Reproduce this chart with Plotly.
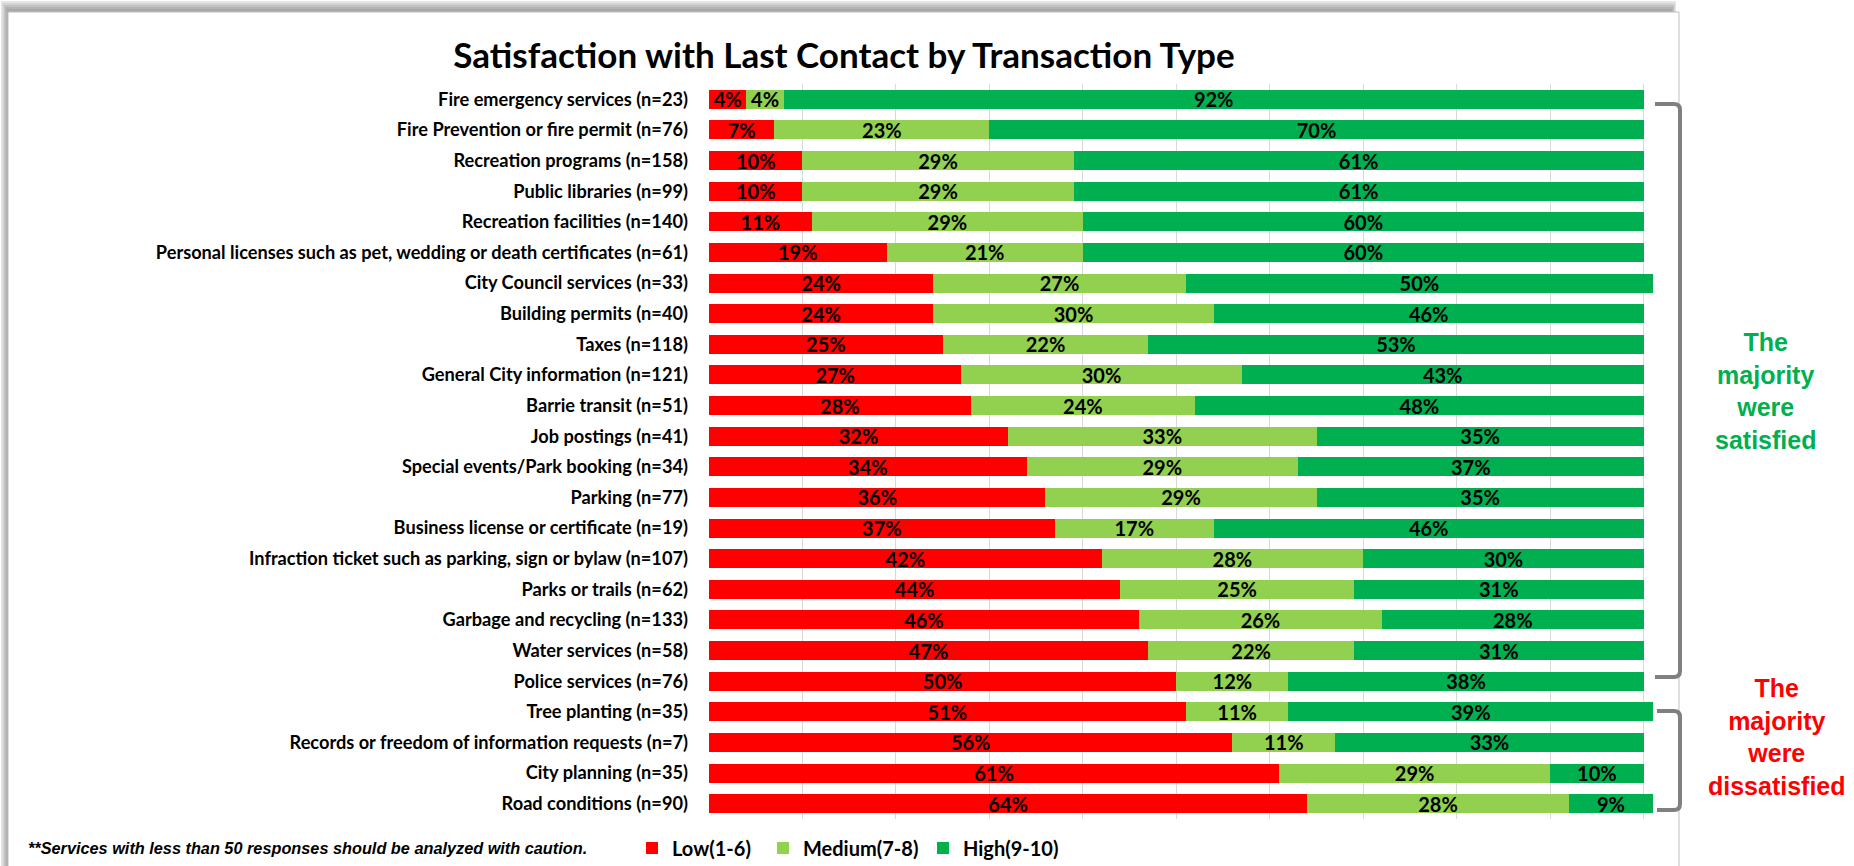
import plotly.graph_objects as go

# Survey results: share of respondents by satisfaction band, per transaction type
categories = [
    "Fire emergency services (n=23)",
    "Fire Prevention or fire permit (n=76)",
    "Recreation programs (n=158)",
    "Public libraries (n=99)",
    "Recreation facilities (n=140)",
    "Personal licenses such as pet, wedding or death certificates (n=61)",
    "City Council services (n=33)",
    "Building permits (n=40)",
    "Taxes (n=118)",
    "General City information (n=121)",
    "Barrie transit (n=51)",
    "Job postings (n=41)",
    "Special events/Park booking (n=34)",
    "Parking (n=77)",
    "Business license or certificate (n=19)",
    "Infraction ticket such as parking, sign or bylaw (n=107)",
    "Parks or trails (n=62)",
    "Garbage and recycling (n=133)",
    "Water services (n=58)",
    "Police services (n=76)",
    "Tree planting (n=35)",
    "Records or freedom of information requests (n=7)",
    "City planning (n=35)",
    "Road conditions (n=90)",
]
low = [4, 7, 10, 10, 11, 19, 24, 24, 25, 27, 28, 32, 34, 36, 37, 42, 44, 46, 47, 50, 51, 56, 61, 64]
medium = [4, 23, 29, 29, 29, 21, 27, 30, 22, 30, 24, 33, 29, 29, 17, 28, 25, 26, 22, 12, 11, 11, 29, 28]
high = [92, 70, 61, 61, 60, 60, 50, 46, 53, 43, 48, 35, 37, 35, 46, 30, 31, 28, 31, 38, 39, 33, 10, 9]

series_names = ["Low(1-6)", "Medium(7-8)", "High(9-10)"]
series_colors = ["#FF0000", "#92D050", "#00B050"]

HUMANIST = "Lato, Roboto, sans-serif"
ARIAL = "Liberation Sans, Arial, sans-serif"

W, H = 1854, 866
L, R, T, B = 709, 201, 84, 47
plot_w = W - L - R
plot_h = H - T - B


def px_x(px):
    return (px - L) / plot_w


def px_y(py):
    return (H - B - py) / plot_h


fig = go.Figure()
legend_ids = ["legend", "legend2", "legend3"]
for name, color, vals, lg in zip(series_names, series_colors, [low, medium, high], legend_ids):
    fig.add_trace(go.Bar(
        y=categories,
        x=vals,
        name=name,
        orientation="h",
        legend=lg,
        marker=dict(color=color, line=dict(width=0)),
        text=[f"{v}%" for v in vals],
        textposition="inside",
        insidetextanchor="middle",
        textangle=0,
        constraintext="none",
        textfont=dict(family=HUMANIST, size=20, color="black", weight="bold"),
        hoverinfo="skip",
    ))

shapes = []
# chart frame with a soft shadow on the top and left edges
for i, col in enumerate(["#E6E6E6", "#D4D4D4", "#C2C2C2", "#B3B3B3", "#A8A8A8"]):
    shapes.append(dict(type="rect", xref="paper", yref="paper",
                       x0=px_x(1 + i * 1.5), x1=px_x(1676 - i * 1.0),
                       y0=px_y(1 + i * 2.0), y1=px_y(900),
                       fillcolor=col, line=dict(width=0), layer="below"))
shapes.append(dict(type="rect", xref="paper", yref="paper",
                   x0=px_x(8), x1=px_x(1679), y0=px_y(12), y1=px_y(900),
                   fillcolor="white", line=dict(color="#BFBFBF", width=1), layer="below"))


def bracket(y_top, y_bot, x_in, x_out=1680, r=6):
    a, b = px_x(x_in), px_x(x_out)
    yt, yb = px_y(y_top), px_y(y_bot)
    dy = r / plot_h
    dx = r / plot_w
    path = (f"M {a},{yt} L {b - dx},{yt} Q {b},{yt} {b},{yt - dy} "
            f"L {b},{yb + dy} Q {b},{yb} {b - dx},{yb} L {a},{yb}")
    return dict(type="path", xref="paper", yref="paper", path=path,
                line=dict(color="#808080", width=4))


shapes.append(bracket(104, 677, 1655))
shapes.append(bracket(711, 810, 1657))

annotations = [
    dict(text="The<br>majority<br>were<br>satisfied", xref="paper", yref="paper",
         x=px_x(1765), y=px_y(391), xanchor="center", yanchor="middle",
         showarrow=False, align="center",
         font=dict(family=ARIAL, size=25, color="#00B050", weight="bold")),
    dict(text="The<br>majority<br>were<br>dissatisfied", xref="paper", yref="paper",
         x=px_x(1777), y=px_y(737), xanchor="center", yanchor="middle",
         showarrow=False, align="center",
         font=dict(family=ARIAL, size=25, color="#FF0000", weight="bold")),
    dict(text="**Services with less than 50 responses should be analyzed with caution.",
         xref="paper", yref="paper", x=px_x(26), y=px_y(848),
         xanchor="left", yanchor="middle", showarrow=False,
         font=dict(family=ARIAL, size=16.3, color="black", weight="bold", style="italic")),
]

legend_style = dict(orientation="h", xref="container", yref="container",
                    y=1 - 848 / H, xanchor="left", yanchor="middle",
                    font=dict(family=HUMANIST, size=20, color="black", weight="bold"),
                    bgcolor="rgba(0,0,0,0)", itemclick=False, itemdoubleclick=False)

fig.update_layout(
    width=W, height=H,
    margin=dict(l=L, r=R, t=T, b=B, pad=0),
    barmode="stack",
    bargap=0.38,
    paper_bgcolor="white",
    plot_bgcolor="rgba(0,0,0,0)",
    title=dict(text="Satisfaction with Last Contact by Transaction Type",
               x=844 / W, xanchor="center", y=1 - 56 / H, yanchor="middle",
               font=dict(family=HUMANIST, size=35, color="black", weight="bold")),
    xaxis=dict(range=[0, 101], dtick=10, tick0=0, showticklabels=False,
               showgrid=True, gridcolor="#D9D9D9", gridwidth=1,
               zeroline=False, showline=False, fixedrange=True, automargin=False),
    yaxis=dict(autorange="reversed", showgrid=False, zeroline=False,
               ticks="", ticklabelstandoff=20, automargin=False,
               tickfont=dict(family=HUMANIST, size=18.2, color="black", weight="bold")),
    legend=dict(x=632 / W, **legend_style),
    legend2=dict(x=763 / W, **legend_style),
    legend3=dict(x=923 / W, **legend_style),
    shapes=shapes,
    annotations=annotations,
    showlegend=True,
)

fig.write_html("out.html")
